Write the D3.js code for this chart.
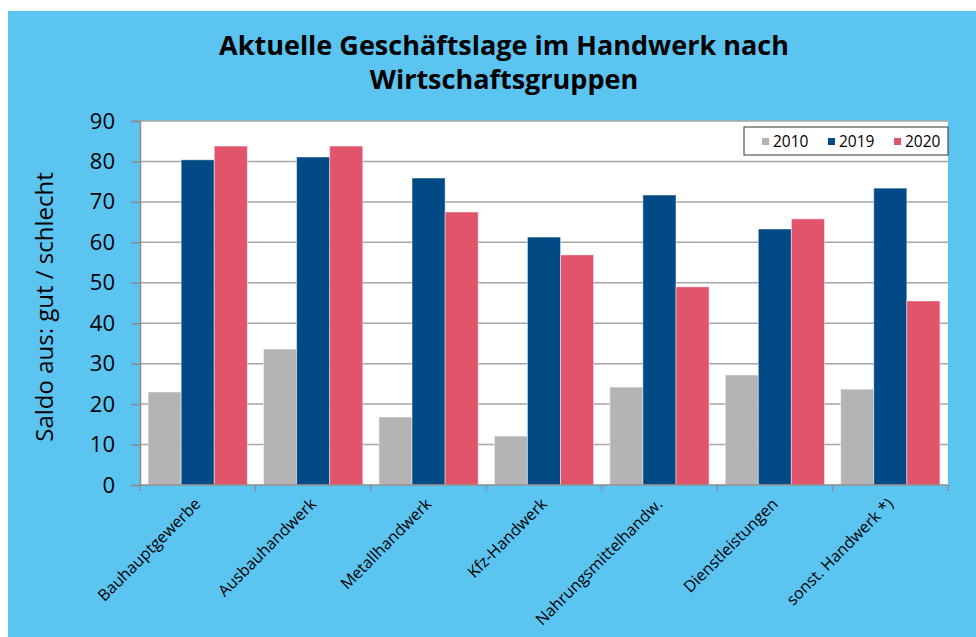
<!DOCTYPE html>
<html>
<head>
<meta charset="utf-8">
<script src="https://cdn.jsdelivr.net/npm/d3@7"></script>
<style>
  body { margin: 0; background: #fff; }
  svg { display: block; font-family: "Open Sans", "Noto Sans", sans-serif; }
</style>
</head>
<body>
<div id="graph"></div>
<script>
var categories = ["Bauhauptgewerbe", "Ausbauhandwerk", "Metallhandwerk", "Kfz-Handwerk",
    "Nahrungsmittelhandw.", "Dienstleistungen", "sonst. Handwerk *)"];
var seriesNames = ["2010", "2019", "2020"];
var values2010 = [23.0, 33.6, 16.8, 12.1, 24.2, 27.2, 23.7];
var values2019 = [80.4, 81.1, 75.9, 61.3, 71.7, 63.3, 73.4];
var values2020 = [83.8, 83.8, 67.5, 56.9, 49.0, 65.8, 45.5];
var yTicks = [0, 10, 20, 30, 40, 50, 60, 70, 80, 90];
var colors = ["#b4b4b4", "#024a86", "#e0556b"];

var W = 976, H = 637;
var margin = { top: 121, right: 28, bottom: 152, left: 140 },
    width = W - margin.left - margin.right,
    height = H - margin.top - margin.bottom;

var svg = d3.select("#graph").append("svg")
    .attr("width", W)
    .attr("height", H);

// blue frame
svg.append("rect")
    .attr("x", 8).attr("y", 11)
    .attr("width", W - 8).attr("height", H - 11)
    .attr("fill", "#5bc4f1");

// title
var title = svg.append("text")
    .attr("text-anchor", "middle")
    .attr("font-size", 27)
    .attr("font-weight", "bold")
    .attr("fill", "#000");
title.append("tspan").attr("x", 504).attr("y", 55).text("Aktuelle Geschäftslage im Handwerk nach");
title.append("tspan").attr("x", 504).attr("y", 89).text("Wirtschaftsgruppen");

var g = svg.append("g")
    .attr("transform", "translate(" + margin.left + "," + margin.top + ")");

var x = d3.scaleBand()
    .domain(categories)
    .range([0, width])
    .paddingInner(0.14)
    .paddingOuter(0.07);
var xs = d3.scaleBand()
    .domain(seriesNames)
    .range([0, x.bandwidth()]);
var y = d3.scaleLinear()
    .domain([0, 90])
    .range([height, 0]);

// plot area
g.append("rect")
    .attr("width", width).attr("height", height)
    .attr("fill", "#fff");

// gridlines
g.append("g")
    .selectAll("line")
    .data(yTicks.slice(1))
    .enter().append("line")
    .attr("x1", 0).attr("x2", width)
    .attr("y1", d => y(d)).attr("y2", d => y(d))
    .attr("stroke", "#a6a6a6")
    .attr("stroke-width", 1.5);

// bars
var series = [values2010, values2019, values2020];
var rows = [];
categories.forEach((c, i) => {
    seriesNames.forEach((s, j) => {
        rows.push({ cat: c, ser: s, val: series[j][i], col: colors[j] });
    });
});

g.selectAll(".bar")
    .data(rows)
    .enter().append("rect")
    .attr("class", "bar")
    .attr("x", d => x(d.cat) + xs(d.ser))
    .attr("width", xs.bandwidth())
    .attr("y", d => y(d.val))
    .attr("height", d => height - y(d.val))
    .attr("fill", d => d.col)
    .attr("stroke", "rgba(255,255,255,0.45)")
    .attr("stroke-width", 1);

// y axis
var yAxis = g.append("g")
    .call(d3.axisLeft(y).tickValues(yTicks).tickSize(9).tickPadding(16));
yAxis.select(".domain").attr("stroke", "#8c8c8c").attr("stroke-width", 1.5);
yAxis.selectAll(".tick line").attr("stroke", "#8c8c8c").attr("stroke-width", 1.5);
yAxis.selectAll(".tick text")
    .attr("font-size", 22)
    .attr("fill", "#000")
    .attr("font-family", "'Open Sans', sans-serif");

// x axis line and ticks at category boundaries
var xg = g.append("g").attr("transform", "translate(0," + height + ")");
xg.append("line")
    .attr("x1", 0).attr("x2", width)
    .attr("stroke", "#8c8c8c").attr("stroke-width", 1.5);
xg.selectAll(".xt")
    .data(d3.range(categories.length + 1))
    .enter().append("line")
    .attr("class", "xt")
    .attr("x1", i => i * width / categories.length)
    .attr("x2", i => i * width / categories.length)
    .attr("y1", 0).attr("y2", 6)
    .attr("stroke", "#8c8c8c").attr("stroke-width", 1.5);

xg.selectAll(".xl")
    .data(categories)
    .enter().append("text")
    .attr("class", "xl")
    .attr("text-anchor", "end")
    .attr("font-size", 16)
    .attr("fill", "#000")
    .attr("transform", d => "translate(" + (x(d) + x.bandwidth() / 2 + 4) + ",20) rotate(-45)")
    .text(d => d);

// y axis title
svg.append("text")
    .attr("transform", "translate(53,307) rotate(-90)")
    .attr("text-anchor", "middle")
    .attr("font-size", 24)
    .attr("fill", "#000")
    .text("Saldo aus: gut / schlecht");

// legend
var lg = g.append("g").attr("transform", "translate(" + (width - 204) + ",6)");
lg.append("rect")
    .attr("width", 204).attr("height", 28)
    .attr("fill", "#fff")
    .attr("stroke", "#333").attr("stroke-width", 1);
var li = lg.selectAll(".li")
    .data(seriesNames)
    .enter().append("g")
    .attr("class", "li")
    .attr("transform", (d, i) => "translate(" + (18 + i * 66) + ",0)");
li.append("rect")
    .attr("y", 11).attr("width", 7).attr("height", 7)
    .attr("fill", (d, i) => colors[i]);
li.append("text")
    .attr("x", 11).attr("y", 20)
    .attr("font-size", 15.5)
    .attr("fill", "#000")
    .text(d => d);
</script>
</body>
</html>
